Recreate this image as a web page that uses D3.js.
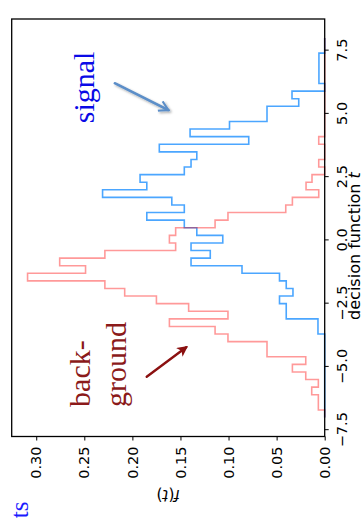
<!DOCTYPE html>
<html>
<head>
<meta charset="utf-8">
<script src="https://cdn.jsdelivr.net/npm/d3@7"></script>
<style>
  html, body { margin: 0; padding: 0; background: #fff; }
  svg { display: block; }
</style>
</head>
<body>
<div id="chart"></div>
<script>
// Histogram bin edges of the decision function t
const binEdges = [-7.0, -6.7, -6.4, -6.1, -5.8, -5.5, -5.2, -4.9, -4.6, -4.3,
  -4.0, -3.7, -3.4, -3.1, -2.8, -2.5, -2.2, -1.9, -1.6, -1.3,
  -1.0, -0.7, -0.4, -0.1, 0.2, 0.5, 0.8, 1.1, 1.4, 1.7,
  2.0, 2.3, 2.6, 2.9, 3.2, 3.5, 3.8, 4.1, 4.4, 4.7,
  5.0, 5.3, 5.6, 5.9, 6.2, 6.5, 6.8, 7.1, 7.4, 7.7, 8.0];

// Normalised densities f(t) per bin
const signalDensity = [0, 0, 0, 0, 0, 0, 0, 0, 0, 0,
  0, 0.007, 0.007, 0.040, 0.040, 0.047, 0.033, 0.040, 0.047, 0.086,
  0.139, 0.119, 0.139, 0.106, 0.133, 0.146, 0.185, 0.146, 0.159, 0.231,
  0.185, 0.192, 0.146, 0.139, 0.133, 0.172, 0.079, 0.140, 0.099, 0.060,
  0.060, 0.027, 0.034, 0, 0.006, 0.006, 0.006, 0.006, 0, 0];

const backgroundDensity = [0, 0.0066, 0.0066, 0.0135, 0.0066, 0.0197, 0.0336, 0.0197, 0.060, 0.060,
  0.1006, 0.114, 0.1615, 0.1006, 0.1415, 0.175, 0.208, 0.2286, 0.309, 0.2487,
  0.2756, 0.2286, 0.155, 0.1615, 0.155, 0.114, 0.1006, 0.0405, 0.0336, 0.0062,
  0.0194, 0.0132, 0, 0.0062, 0, 0, 0.0062, 0, 0, 0,
  0, 0, 0, 0, 0, 0, 0, 0, 0, 0];

const tTicks = [-7.5, -5.0, -2.5, 0.0, 2.5, 5.0, 7.5];
const fTicks = [0.00, 0.05, 0.10, 0.15, 0.20, 0.25, 0.30];

// The figure is laid out landscape (520 x 364) and turned a quarter turn
const W = 520, H = 364;
const svg = d3.select("#chart").append("svg")
  .attr("width", H).attr("height", W);

const defs = svg.append("defs");
const shadow = defs.append("filter").attr("id", "soft-shadow")
  .attr("x", "-30%").attr("y", "-30%").attr("width", "160%").attr("height", "160%");
shadow.append("feDropShadow")
  .attr("dx", -1.5).attr("dy", 1.5).attr("stdDeviation", 1.2)
  .attr("flood-color", "#000").attr("flood-opacity", 0.35);

defs.append("marker").attr("id", "head-open")
  .attr("viewBox", "0 0 10 10").attr("refX", 8).attr("refY", 5)
  .attr("markerWidth", 5).attr("markerHeight", 5)
  .attr("markerUnits", "strokeWidth").attr("orient", "auto")
  .append("path").attr("d", "M1,1 L8,5 L1,9")
  .attr("fill", "none").attr("stroke", "#5b8ec8").attr("stroke-width", 1.6);

defs.append("marker").attr("id", "head-solid")
  .attr("viewBox", "0 0 10 10").attr("refX", 8).attr("refY", 5)
  .attr("markerWidth", 4.5).attr("markerHeight", 4.5)
  .attr("markerUnits", "strokeWidth").attr("orient", "auto")
  .append("path").attr("d", "M0,0 L10,5 L0,10 L2.5,5 Z")
  .attr("fill", "#8b1010");

const fig = svg.append("g").attr("transform", `translate(0,${W}) rotate(-90)`);

const margin = { left: 83.5, right: 19, top: 11.7, bottom: 39.3 };
const x = d3.scaleLinear().domain([-7.75, 8.75]).range([margin.left, W - margin.right]);
const y = d3.scaleLinear().domain([0, 0.3255]).range([H - margin.bottom, margin.top]);

// Step outline of a histogram, closed down to the baseline at both ends
function stepPoints(vals) {
  const pts = [[binEdges[0], 0]];
  vals.forEach((v, i) => {
    pts.push([binEdges[i], v]);
    pts.push([binEdges[i + 1], v]);
  });
  pts.push([binEdges[binEdges.length - 1], 0]);
  return pts;
}
const line = d3.line().x(d => x(d[0])).y(d => y(d[1]));

fig.append("path").datum(stepPoints(signalDensity))
  .attr("d", line).attr("fill", "none")
  .attr("stroke", "#1e90ff").attr("stroke-opacity", 0.8)
  .attr("stroke-width", 1.6).attr("stroke-linejoin", "miter");

fig.append("path").datum(stepPoints(backgroundDensity))
  .attr("d", line).attr("fill", "none")
  .attr("stroke", "#ff0000").attr("stroke-opacity", 0.4)
  .attr("stroke-width", 1.6).attr("stroke-linejoin", "miter");

// Axes
const tickFont = "'DejaVu Sans', sans-serif";
const xAxis = fig.append("g").attr("transform", `translate(0,${H - margin.bottom})`)
  .call(d3.axisBottom(x).tickValues(tTicks).tickFormat(d3.format(".1f"))
    .tickSize(4).tickSizeOuter(0).tickPadding(8.5));
const yAxis = fig.append("g").attr("transform", `translate(${margin.left},0)`)
  .call(d3.axisLeft(y).tickValues(fTicks).tickFormat(d3.format(".2f"))
    .tickSize(4).tickSizeOuter(0).tickPadding(6));
[xAxis, yAxis].forEach(a => {
  a.select(".domain").remove();
  a.selectAll("line").attr("stroke", "#000").attr("stroke-width", 1);
  a.selectAll("text").attr("font-family", tickFont).attr("font-size", 14.5).attr("fill", "#000");
});

// Frame
fig.append("rect")
  .attr("x", margin.left).attr("y", margin.top)
  .attr("width", W - margin.left - margin.right)
  .attr("height", H - margin.top - margin.bottom)
  .attr("fill", "none").attr("stroke", "#000").attr("stroke-width", 1.3);

// Axis titles
const xt = fig.append("text")
  .attr("x", 274).attr("y", 359.8)
  .attr("text-anchor", "middle")
  .attr("font-family", tickFont).attr("font-size", 16).attr("fill", "#000");
xt.append("tspan").text("decision function ");
xt.append("tspan").attr("font-style", "italic").text("t");

const yt = fig.append("text")
  .attr("transform", `translate(30,${(y(0) + y(0.3255)) / 2}) rotate(-90)`)
  .attr("text-anchor", "middle")
  .attr("font-family", tickFont).attr("font-size", 15.5).attr("fill", "#000");
yt.append("tspan").attr("font-style", "italic").text("f");
yt.append("tspan").text("(");
yt.append("tspan").attr("font-style", "italic").text("t");
yt.append("tspan").text(")");

// Annotations
const serif = "'Liberation Serif', 'Times New Roman', serif";
fig.append("text")
  .attr("x", x(4.63)).attr("y", y(0.2395))
  .attr("font-family", serif).attr("font-size", 30).attr("fill", "#0a0ae6")
  .text("signal");

fig.append("line")
  .attr("x1", x(6.21)).attr("y1", y(0.2181))
  .attr("x2", x(5.15)).attr("y2", y(0.1626))
  .attr("stroke", "#5b8ec8").attr("stroke-width", 2.6)
  .attr("stroke-linecap", "round")
  .attr("marker-end", "url(#head-open)")
  .attr("filter", "url(#soft-shadow)");

fig.append("text")
  .attr("x", x(-6.58)).attr("y", y(0.244))
  .attr("font-family", serif).attr("font-size", 30).attr("fill", "#8b1a1a")
  .text("back-");
fig.append("text")
  .attr("x", x(-6.58)).attr("y", y(0.2062))
  .attr("font-family", serif).attr("font-size", 30).attr("fill", "#8b1a1a")
  .text("ground");

fig.append("line")
  .attr("x1", x(-5.39)).attr("y1", y(0.1851))
  .attr("x2", x(-4.22)).attr("y2", y(0.1440))
  .attr("stroke", "#8b1010").attr("stroke-width", 2.4)
  .attr("stroke-linecap", "round")
  .attr("marker-end", "url(#head-solid)");

// Caption fragment at the left edge
fig.append("text")
  .attr("x", 18.5).attr("y", 28)
  .attr("text-anchor", "end")
  .attr("font-family", serif).attr("font-size", 25).attr("fill", "#1a1aff")
  .text("ts");
</script>
</body>
</html>
